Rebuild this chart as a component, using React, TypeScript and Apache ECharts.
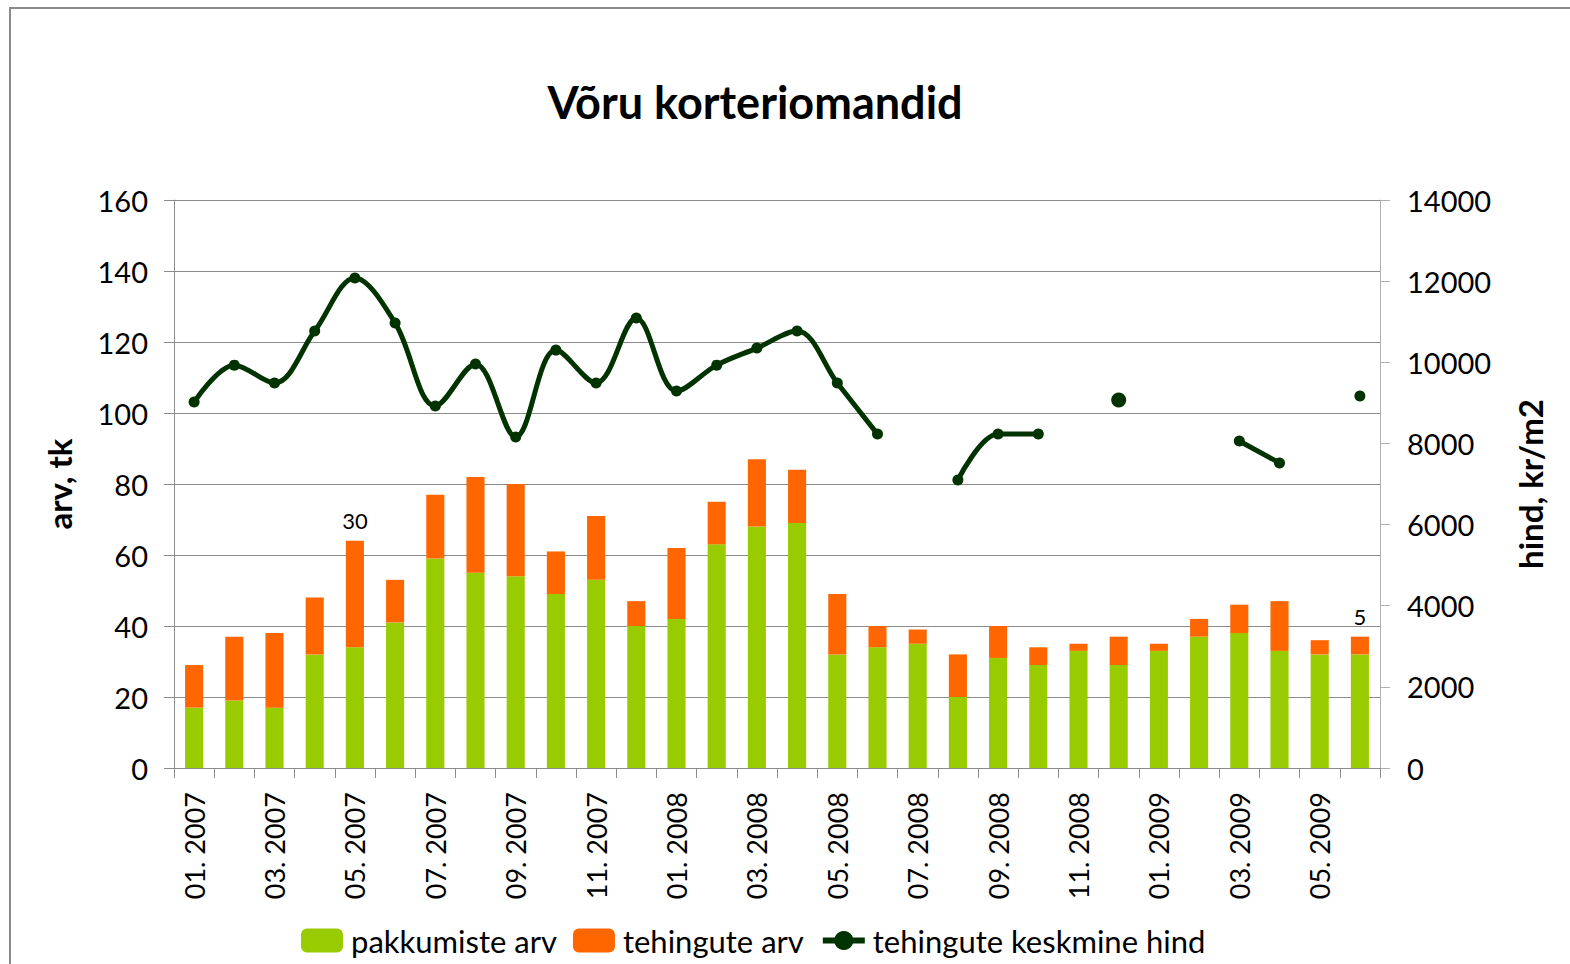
import React, { useEffect, useRef } from "react";
import * as echarts from "echarts";

const categories = [
  "01. 2007", "02. 2007", "03. 2007", "04. 2007", "05. 2007", "06. 2007",
  "07. 2007", "08. 2007", "09. 2007", "10. 2007", "11. 2007", "12. 2007",
  "01. 2008", "02. 2008", "03. 2008", "04. 2008", "05. 2008", "06. 2008",
  "07. 2008", "08. 2008", "09. 2008", "10. 2008", "11. 2008", "12. 2008",
  "01. 2009", "02. 2009", "03. 2009", "04. 2009", "05. 2009", "06. 2009",
];

const offers = [17, 19, 17, 32, 34, 41, 59, 55, 54, 49, 53, 40, 42, 63, 68, 69, 32, 34, 35, 20, 31, 29, 33, 29, 33, 37, 38, 33, 32, 32];
const deals = [12, 18, 21, 16, 30, 12, 18, 27, 26, 12, 18, 7, 20, 12, 19, 15, 17, 6, 4, 12, 9, 5, 2, 8, 2, 5, 8, 14, 4, 5];
const avgPrice: (number | null)[] = [
  9020, 9930, 9490, 10770, 12080, 10970, 8920, 9960, 8160, 10300, 9490, 11090,
  9290, 9930, 10350, 10770, 9490, 8230, null, 7100, 8230, 8230, null, 9070,
  null, null, 8060, 7520, null, 9170,
];
const labelledDeals = [4, 29];

const leftTicks = { min: 0, max: 160, interval: 20 };
const rightTicks = { min: 0, max: 14000, interval: 2000 };

const FONT = "Lato";
const AXIS_GRAY = "#8c8c8c";
const LINE_GREEN = "#003300";

export default function App() {
  const ref = useRef<HTMLDivElement>(null);
  useEffect(() => {
    if (!ref.current) return;
    const chart = echarts.init(ref.current, null, { renderer: "svg" });
    chart.setOption({
      animation: false,
      backgroundColor: "#ffffff",
      textStyle: { fontFamily: FONT, color: "#000" },
      graphic: [
        {
          type: "rect",
          shape: { x: 10, y: 8, width: 1600, height: 1000 },
          style: { fill: "none", stroke: "#8a8a8a", lineWidth: 2 },
          silent: true,
        },
      ],
      title: {
        text: "Võru korteriomandid",
        left: 750,
        textAlign: "center",
        top: 74,
        textStyle: { fontFamily: FONT, fontWeight: "bold", fontSize: 45, color: "#000" },
      },
      legend: {
        left: 296,
        top: 920,
        itemWidth: 42,
        itemHeight: 24,
        itemGap: 16,
        textStyle: { fontFamily: FONT, fontSize: 31, color: "#000", padding: [0, 0, 0, 3] },
        data: [
          { name: "pakkumiste arv" },
          { name: "tehingute arv" },
          {
            name: "tehingute keskmine hind",
            itemStyle: { color: LINE_GREEN, borderWidth: 0 },
            lineStyle: { color: LINE_GREEN, width: 6 },
          },
        ],
      },
      grid: { left: 174, right: 190, top: 200, bottom: 196 },
      xAxis: {
        type: "category",
        data: categories,
        boundaryGap: true,
        axisLine: { lineStyle: { color: AXIS_GRAY, width: 1 } },
        axisTick: { show: true, interval: 0, length: 10, lineStyle: { color: AXIS_GRAY } },
        axisLabel: {
          interval: 1,
          rotate: 90,
          fontSize: 27,
          fontFamily: FONT,
          color: "#000",
          margin: 24,
        },
      },
      yAxis: [
        {
          type: "value",
          ...leftTicks,
          name: "arv, tk",
          nameLocation: "middle",
          nameRotate: 90,
          nameGap: 99,
          nameTextStyle: { fontFamily: FONT, fontWeight: "bold", fontSize: 33, color: "#000" },
          axisLine: { show: true, lineStyle: { color: AXIS_GRAY } },
          axisTick: { show: true, length: 10, lineStyle: { color: AXIS_GRAY } },
          axisLabel: { fontSize: 29, fontFamily: FONT, color: "#000", margin: 26 },
          splitLine: { show: true, lineStyle: { color: AXIS_GRAY, width: 1 } },
        },
        {
          type: "value",
          ...rightTicks,
          position: "right",
          name: "hind, kr/m2",
          nameLocation: "middle",
          nameRotate: 90,
          nameGap: 133,
          nameTextStyle: { fontFamily: FONT, fontWeight: "bold", fontSize: 33, color: "#000" },
          axisLine: { show: true, lineStyle: { color: "#b0b0b0" } },
          axisTick: { show: true, length: 10, lineStyle: { color: "#b0b0b0" } },
          axisLabel: {
            fontSize: 29,
            fontFamily: FONT,
            color: "#000",
            margin: 27,
            formatter: (v: number) => String(v),
          },
          splitLine: { show: false },
        },
      ],
      series: [
        {
          name: "pakkumiste arv",
          type: "bar",
          stack: "a",
          barWidth: "45%",
          itemStyle: { color: "#99cc00" },
          data: offers,
        },
        {
          name: "tehingute arv",
          type: "bar",
          stack: "a",
          barWidth: "45%",
          itemStyle: { color: "#ff6600" },
          data: deals.map((v, i) =>
            labelledDeals.includes(i)
              ? {
                  value: v,
                  label: {
                    show: true,
                    position: "top",
                    distance: 9,
                    fontSize: 22,
                    fontFamily: FONT,
                    color: "#000",
                  },
                }
              : v
          ),
        },
        {
          name: "tehingute keskmine hind",
          type: "line",
          yAxisIndex: 1,
          smooth: 0.35,
          connectNulls: false,
          symbol: "circle",
          symbolSize: 11,
          showSymbol: true,
          itemStyle: { color: LINE_GREEN },
          lineStyle: { color: LINE_GREEN, width: 5 },
          data: avgPrice.map((v, i) => (i === 23 && v !== null ? { value: v, symbolSize: 15 } : v)),
        },
      ],
    });
    return () => chart.dispose();
  }, []);
  return (
    <div
      ref={ref}
      style={{ position: "fixed", left: 0, top: 0, width: 1570, height: 964 }}
    />
  );
}
